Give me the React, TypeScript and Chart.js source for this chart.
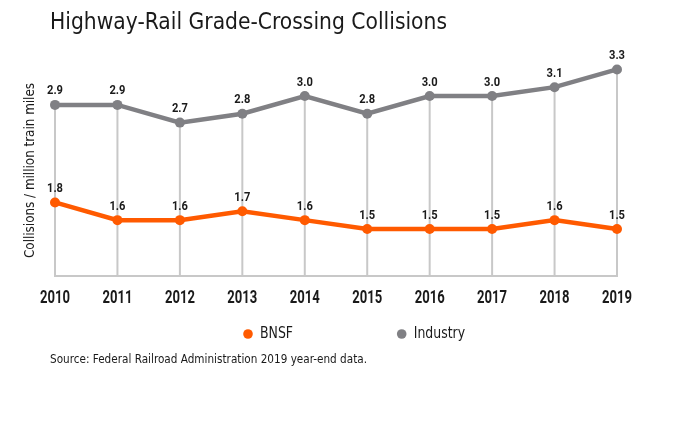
import React, { useEffect, useRef } from "react";
import { Chart, registerables } from "chart.js";

Chart.register(...registerables);

const years = ["2010", "2011", "2012", "2013", "2014", "2015", "2016", "2017", "2018", "2019"];
const bnsf = [1.8, 1.6, 1.6, 1.7, 1.6, 1.5, 1.5, 1.5, 1.6, 1.5];
const industry = [2.9, 2.9, 2.7, 2.8, 3.0, 2.8, 3.0, 3.0, 3.1, 3.3];

const TITLE = "Highway-Rail Grade-Crossing Collisions";
const Y_TITLE = "Collisions / million train miles";
const SOURCE = "Source: Federal Railroad Administration 2019 year-end data.";

const ORANGE = "#FF5A00";
const GRAY = "#808084";
const GRID = "#c8c8c8";
const TEXT = "#1a1a1a";
const FAMILY = "'DejaVu Sans Condensed', 'DejaVu Sans', sans-serif";
const NUM_FAMILY = "Roboto, 'DejaVu Sans Condensed', sans-serif";

// draw text horizontally compressed so that a reference string gets a target width
function drawFit(
  ctx: CanvasRenderingContext2D,
  text: string,
  x: number,
  y: number,
  refText: string,
  refWidth: number,
  align: CanvasTextAlign
) {
  const w = ctx.measureText(refText).width;
  const sx = w > 0 ? refWidth / w : 1;
  ctx.save();
  ctx.translate(x, y);
  ctx.scale(sx, 1);
  ctx.textAlign = align;
  ctx.fillText(text, 0, 0);
  ctx.restore();
}

const decor = {
  id: "decor",
  beforeDatasetsDraw(chart: any) {
    const { ctx, chartArea } = chart;
    const topMeta = chart.getDatasetMeta(1);
    ctx.save();
    ctx.strokeStyle = GRID;
    ctx.lineWidth = 2;
    topMeta.data.forEach((pt: any) => {
      ctx.beginPath();
      ctx.moveTo(pt.x, pt.y);
      ctx.lineTo(pt.x, chartArea.bottom);
      ctx.stroke();
    });
    ctx.restore();
  },
  afterDatasetsDraw(chart: any) {
    const { ctx } = chart;
    ctx.save();
    ctx.fillStyle = TEXT;
    ctx.font = `bold 12.5px ${NUM_FAMILY}`;
    ctx.textBaseline = "alphabetic";
    chart.data.datasets.forEach((ds: any, i: number) => {
      const meta = chart.getDatasetMeta(i);
      meta.data.forEach((pt: any, j: number) => {
        drawFit(ctx, Number(ds.data[j]).toFixed(1), pt.x, pt.y - 10.5, "2.9", 16, "center");
      });
    });
    ctx.restore();
  },
  afterDraw(chart: any) {
    const { ctx } = chart;
    const xScale = chart.scales.x;
    ctx.save();
    ctx.fillStyle = TEXT;
    ctx.textBaseline = "alphabetic";

    // x tick labels
    ctx.font = `bold 17.5px ${NUM_FAMILY}`;
    chart.data.labels.forEach((lab: string, i: number) => {
      drawFit(ctx, lab, xScale.getPixelForValue(i), 303.3, "2010", 30, "center");
    });

    ctx.font = `23px ${FAMILY}`;
    drawFit(ctx, TITLE, 50, 28.5, TITLE, 397, "left");

    ctx.font = `12.5px ${FAMILY}`;
    drawFit(ctx, SOURCE, 50, 362.5, SOURCE, 317, "left");

    // y title
    ctx.save();
    ctx.translate(33.5, 170.5);
    ctx.rotate(-Math.PI / 2);
    ctx.font = `14.5px ${FAMILY}`;
    drawFit(ctx, Y_TITLE, 0, 0, Y_TITLE, 175, "center");
    ctx.restore();

    // legend
    const legendX = [248, 401.7];
    ctx.font = `15px ${FAMILY}`;
    ctx.textBaseline = "middle";
    chart.data.datasets.forEach((ds: any, i: number) => {
      const x = legendX[i];
      ctx.fillStyle = ds.borderColor;
      ctx.beginPath();
      ctx.arc(x, 334, 4.8, 0, Math.PI * 2);
      ctx.fill();
      ctx.fillStyle = TEXT;
      drawFit(ctx, ds.label, x + 12, 334.5, "BNSF", 33, "left");
    });
    ctx.restore();
  },
};

export default function App() {
  const ref = useRef<HTMLCanvasElement>(null);
  useEffect(() => {
    if (!ref.current) return;
    const chart = new Chart(ref.current, {
      type: "line",
      data: {
        labels: years,
        datasets: [
          {
            label: "BNSF",
            data: bnsf,
            borderColor: ORANGE,
            backgroundColor: ORANGE,
            borderWidth: 4.5,
            pointRadius: 5,
            pointBorderWidth: 0,
            pointHoverRadius: 5,
            tension: 0,
            clip: false as any,
          },
          {
            label: "Industry",
            data: industry,
            borderColor: GRAY,
            backgroundColor: GRAY,
            borderWidth: 4.5,
            pointRadius: 5,
            pointBorderWidth: 0,
            pointHoverRadius: 5,
            tension: 0,
            clip: false as any,
          },
        ],
      },
      options: {
        responsive: false,
        animation: false,
        devicePixelRatio: 1,
        layout: { padding: { left: 55, right: 62, top: 51.7, bottom: 171 } },
        plugins: {
          legend: { display: false },
          title: { display: false },
          tooltip: { enabled: false },
        },
        scales: {
          y: { display: false, min: 0.97, max: 3.5 },
          x: {
            offset: false,
            grid: { display: false, drawTicks: false },
            border: { display: true, color: GRID, width: 2 },
            ticks: { display: false },
          },
        },
      },
      plugins: [decor],
    });
    return () => chart.destroy();
  }, []);
  return (
    <div style={{ position: "fixed", left: 0, top: 0, width: 679, height: 447, background: "#fff" }}>
      <canvas ref={ref} width={679} height={447} style={{ display: "block" }} />
    </div>
  );
}
